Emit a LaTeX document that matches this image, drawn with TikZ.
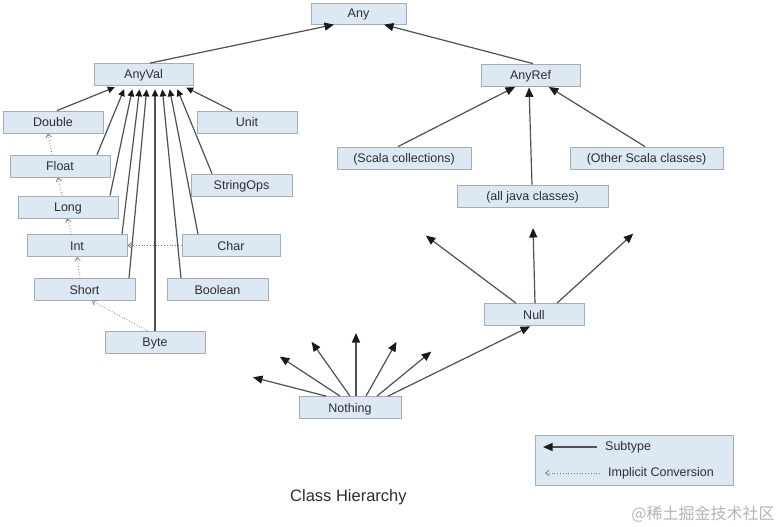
\documentclass[tikz,border=0pt]{standalone}
\usepackage{fontspec}
\setmainfont{Liberation Sans}
\newfontfamily\cjk{Noto Sans CJK SC}
\usetikzlibrary{arrows.meta}
\definecolor{boxfill}{HTML}{DCE8F4}
\definecolor{boxline}{HTML}{A4ACB4}
\definecolor{lnk}{HTML}{505050}
\definecolor{conv}{HTML}{7A7A7A}
\definecolor{wm}{HTML}{B4B4B4}
\begin{document}
\begin{tikzpicture}[x=1pt,y=-1pt,
  cls/.style={draw=boxline, fill=boxfill, line width=0.8pt, minimum height=22pt,
    minimum width=100pt, inner sep=0pt, text height=9pt, text depth=0pt,
    font=\fontsize{12.5}{14}\selectfont, text=black!82},
  sub/.style={draw=lnk, line width=1.2pt, -{Triangle[length=9.5pt,width=8pt,color=black!90]}, shorten >=1pt},
  subv/.style={sub, -{Triangle[length=7pt,width=6.5pt,color=black!90]}, shorten >=3.5pt},
  impl/.style={draw=conv, line width=0.8pt, dotted, -{Straight Barb[length=3.5pt,width=5.5pt]}},
  lbl/.style={font=\fontsize{12.5}{14}\selectfont, text=black!82, inner sep=0pt, anchor=west}]
\path[fill=white] (0,0) rectangle (782,527);
\useasboundingbox (0,0) rectangle (782,527);

% nodes
\node[cls, minimum width=95pt, minimum height=21pt] (any) at (358.5,13.5) {Any};
\node[cls, minimum width=99pt] (anyval) at (143.5,74.5) {AnyVal};
\node[cls, minimum width=99pt] (anyref) at (530.5,75) {AnyRef};
\node[cls] (double) at (53,122) {Double};
\node[cls] (unit) at (247,122) {Unit};
\node[cls] (float) at (60,166) {Float};
\node[cls, minimum width=101pt] (stringops) at (241.5,185) {StringOps};
\node[cls] (long) at (68,207) {Long};
\node[cls] (int) at (77,245.5) {Int};
\node[cls, minimum width=98pt] (char) at (231,245.5) {Char};
\node[cls, minimum width=101pt] (short) at (84.5,289.5) {Short};
\node[cls, minimum width=101pt] (boolean) at (217.5,289.5) {Boolean};
\node[cls] (byte) at (155,342) {Byte};
\node[cls, minimum width=134pt] (scoll) at (404,158) {(Scala collections)};
\node[cls, minimum width=153pt] (sother) at (646.5,158) {(Other Scala classes)};
\node[cls, minimum width=151pt] (java) at (532.5,196) {(all java classes)};
\node[cls] (null) at (534,314.5) {Null};
\node[cls, minimum width=102pt] (nothing) at (350,407.5) {Nothing};

% top level
\draw[sub] ([xshift=6.5pt]anyval.north) -- ([xshift=-23.5pt]any.south);
\draw[sub] ([xshift=2.5pt]anyref.north) -- ([xshift=24.5pt]any.south);

% AnyRef children
\draw[sub] ([xshift=-6pt]scoll.north) -- ([xshift=-14.5pt]anyref.south);
\draw[sub] ([xshift=-0.5pt]java.north) -- ([xshift=-1.5pt]anyref.south);
\draw[sub] ([xshift=-1.5pt]sother.north) -- ([xshift=17.5pt]anyref.south);

% AnyVal children
\draw[subv] ([xshift=4pt]double.north) -- ([xshift=-25.5pt]anyval.south);
\draw[subv] ([xshift=37pt]float.north) -- ([xshift=-18pt]anyval.south);
\draw[subv] ([xshift=42pt]long.north) -- ([xshift=-10.5pt]anyval.south);
\draw[subv] ([xshift=45pt]int.north) -- ([xshift=-3.5pt]anyval.south);
\draw[subv] ([xshift=44.5pt]short.north) -- ([xshift=3.5pt]anyval.south);
\draw[subv] (byte.north) -- ([xshift=11.5pt]anyval.south);
\draw[subv] ([xshift=-36.5pt]boolean.north) -- ([xshift=18.5pt]anyval.south);
\draw[subv] ([xshift=-33pt]char.north) -- ([xshift=25.5pt]anyval.south);
\draw[subv] ([xshift=-29.5pt]stringops.north) -- ([xshift=32.5pt]anyval.south);
\draw[subv] ([xshift=-15pt]unit.north) -- ([xshift=39.5pt]anyval.south);

% implicit conversions
\draw[impl] ([xshift=-8pt]float.north) -- ([xshift=-5pt]double.south);
\draw[impl] ([xshift=-6pt]long.north) -- ([xshift=-2pt]float.south);
\draw[impl] ([xshift=-5pt]int.north) -- ([xshift=-1pt]long.south);
\draw[impl] ([xshift=-4.5pt]short.north) -- ([xshift=0pt]int.south);
\draw[impl] (char.west) -- (int.east);
\draw[impl] ([xshift=-8pt]byte.north) -- ([xshift=7.5pt]short.south);

% Null
\coordinate (n1) at (425,235);
\coordinate (n2) at (533,227);
\coordinate (n3) at (634,233);
\draw[sub] ([xshift=-18pt]null.north) -- (n1);
\draw[sub] ([xshift=1pt]null.north) -- (n2);
\draw[sub] ([xshift=23pt]null.north) -- (n3);

% Nothing
\coordinate (m1) at (252,377);
\coordinate (m2) at (279,356);
\coordinate (m3) at (311,341);
\coordinate (m4) at (356,332);
\coordinate (m5) at (397,341);
\coordinate (m6) at (432,351);
\draw[sub] ([xshift=-24pt]nothing.north) -- (m1);
\draw[sub] ([xshift=-10pt]nothing.north) -- (m2);
\draw[sub] (nothing.north) -- (m3);
\draw[sub] ([xshift=6pt]nothing.north) -- (m4);
\draw[sub] ([xshift=16pt]nothing.north) -- (m5);
\draw[sub] ([xshift=27pt]nothing.north) -- (m6);
\draw[sub] ([xshift=38pt]nothing.north) -- ([xshift=-3pt]null.south);

% legend
\node[cls, minimum width=198pt, minimum height=50pt] (legend) at (634,460) {};
\coordinate (ls1) at (597,447);
\coordinate (le1) at (543,447);
\coordinate (ls2) at (600,473);
\coordinate (le2) at (545,473);
\draw[sub, shorten >=0pt] (ls1) -- (le1);
\draw[impl] (ls2) -- (le2);
\node[lbl] (lsub) at (605,447) {Subtype};
\node[lbl] (limp) at (608,473) {Implicit Conversion};

% title
\node[inner sep=0pt, anchor=west, font=\fontsize{16.5}{19}\selectfont, text=black!82] (title) at (290,497) {Class Hierarchy};
\node[inner sep=0pt, font=\cjk\fontsize{16}{18}\selectfont, text=wm] (wmark) at (703,514) {@稀土掘金技术社区};
\end{tikzpicture}
\end{document}
